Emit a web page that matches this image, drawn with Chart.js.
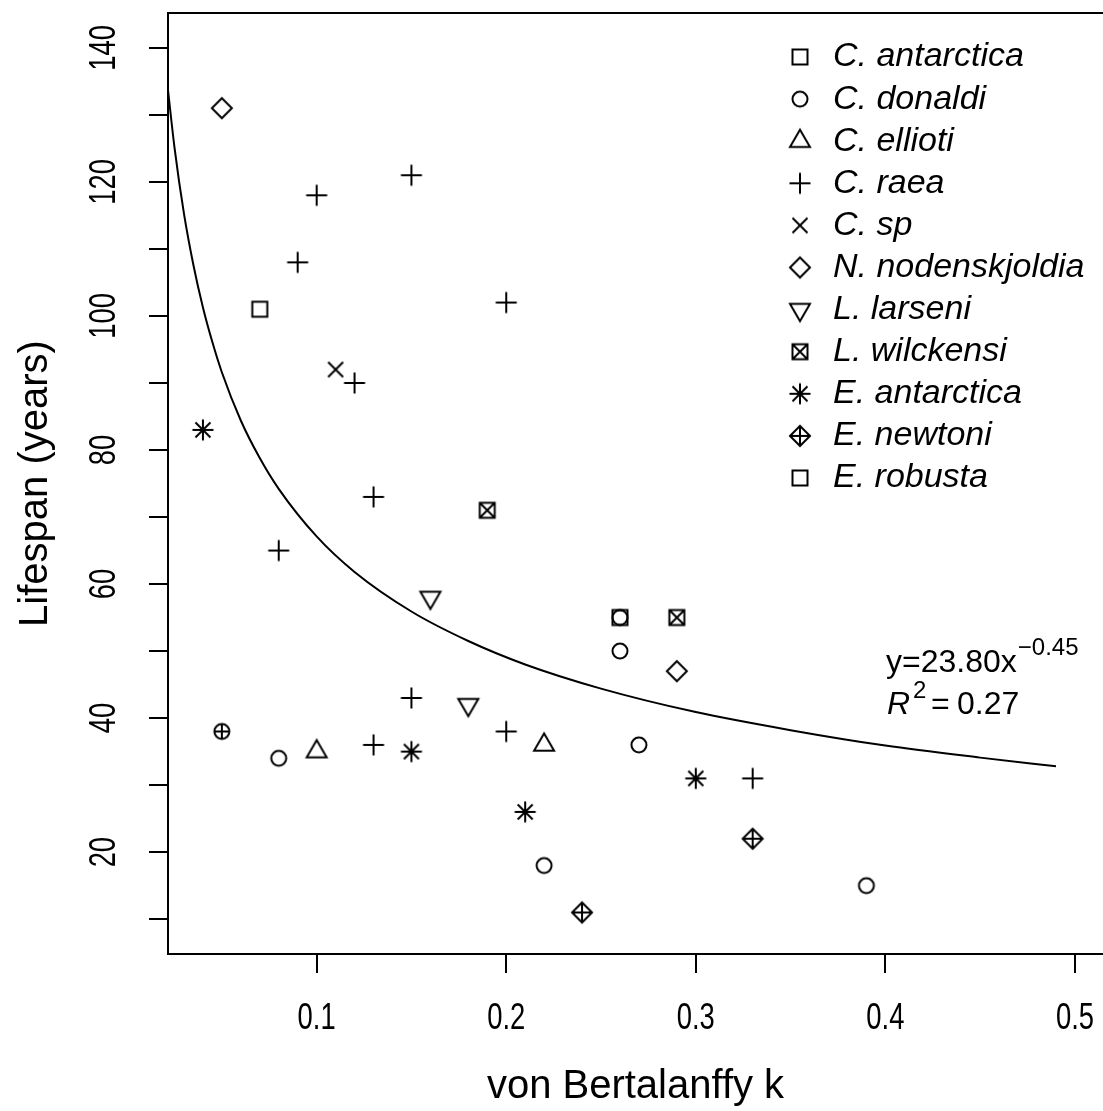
<!DOCTYPE html>
<html>
<head>
<meta charset="utf-8">
<script src="https://cdn.jsdelivr.net/npm/chart.js@4.4.0/dist/chart.umd.min.js"></script>
<style>
  html, body { margin: 0; padding: 0; background: #fff; overflow: hidden; }
  #wrap { width: 1103px; height: 1111px; }
</style>
</head>
<body>
<div id="wrap"><canvas id="chart" width="1103" height="1111"></canvas></div>
<script>
// values: von Bertalanffy k vs lifespan (years)
const species = ['C. antarctica', 'C. donaldi', 'C. ellioti', 'C. raea', 'C. sp',
  'N. nodenskjoldia', 'L. larseni', 'L. wilckensi', 'E. antarctica', 'E. newtoni', 'E. robusta'];

const cAntarcticaK = [0.07, 0.26];
const cAntarcticaLife = [101, 55];
const cDonaldiK = [0.26, 0.26, 0.08, 0.27, 0.22, 0.39];
const cDonaldiLife = [55, 50, 34, 36, 18, 15];
const cElliotiK = [0.10, 0.22];
const cElliotiLife = [35, 36];
const cRaeaK = [0.10, 0.15, 0.09, 0.20, 0.12, 0.13, 0.08, 0.15, 0.13, 0.20, 0.33];
const cRaeaLife = [118, 121, 108, 102, 90, 73, 65, 43, 36, 38, 31];
const cSpK = [0.11];
const cSpLife = [92];
const nNodenskjoldiaK = [0.05, 0.29];
const nNodenskjoldiaLife = [131, 47];
const lLarseniK = [0.16, 0.18];
const lLarseniLife = [58, 42];
const lWilckensiK = [0.19, 0.29];
const lWilckensiLife = [71, 55];
const eAntarcticaK = [0.04, 0.15, 0.30, 0.21];
const eAntarcticaLife = [83, 35, 31, 26];
const eNewtoniK = [0.33, 0.24];
const eNewtoniLife = [22, 11];
const eRobustaK = [0.05];
const eRobustaLife = [38];

// fitted curve y = 23.80 x^-0.45, as traced on the figure
const fitK = [0.0216, 0.025, 0.03, 0.035, 0.04, 0.045, 0.05, 0.06, 0.07, 0.08, 0.10, 0.12, 0.15, 0.18, 0.21, 0.25, 0.30, 0.35, 0.40, 0.45, 0.49];
const fitLife = [133.7, 125.2, 115.3, 107.6, 101.3, 96.1, 91.6, 84.4, 78.8, 74.2, 67.1, 61.8, 55.9, 51.5, 48.0, 44.4, 40.9, 38.2, 35.9, 34.1, 32.8];

const xTicks = [0.1, 0.2, 0.3, 0.4, 0.5];
const xTickLabels = ['0.1', '0.2', '0.3', '0.4', '0.5'];
const yTicks = [10, 20, 30, 40, 50, 60, 70, 80, 90, 100, 110, 120, 130, 140];
const yTickLabels = ['', '20', '', '40', '', '60', '', '80', '', '100', '', '120', '', '140'];

const sans = "'Liberation Sans', Arial, sans-serif";
const ink = '#000';

// R style plotting symbols
function makeSymbol(kind) {
  const c = document.createElement('canvas');
  c.width = 30; c.height = 30;
  const g = c.getContext('2d');
  const m = 15;
  g.strokeStyle = ink;
  g.lineWidth = 2;
  g.beginPath();
  if (kind === 'square' || kind === 'squareX') {
    g.rect(m - 7.5, m - 7.5, 15, 15);
    if (kind === 'squareX') {
      g.moveTo(m - 7.5, m - 7.5); g.lineTo(m + 7.5, m + 7.5);
      g.moveTo(m + 7.5, m - 7.5); g.lineTo(m - 7.5, m + 7.5);
    }
  } else if (kind === 'circle' || kind === 'circlePlus') {
    g.arc(m, m, 7.5, 0, Math.PI * 2);
    if (kind === 'circlePlus') {
      g.moveTo(m - 7.5, m); g.lineTo(m + 7.5, m);
      g.moveTo(m, m - 7.5); g.lineTo(m, m + 7.5);
    }
  } else if (kind === 'triangle') {
    g.moveTo(m, m - 11.5); g.lineTo(m + 10, m + 5.8); g.lineTo(m - 10, m + 5.8); g.closePath();
  } else if (kind === 'triangleDown') {
    g.moveTo(m, m + 11.5); g.lineTo(m + 10, m - 5.8); g.lineTo(m - 10, m - 5.8); g.closePath();
  } else if (kind === 'plus') {
    g.moveTo(m - 10.5, m); g.lineTo(m + 10.5, m);
    g.moveTo(m, m - 10.5); g.lineTo(m, m + 10.5);
  } else if (kind === 'cross') {
    g.moveTo(m - 7.5, m - 7.5); g.lineTo(m + 7.5, m + 7.5);
    g.moveTo(m + 7.5, m - 7.5); g.lineTo(m - 7.5, m + 7.5);
  } else if (kind === 'diamond' || kind === 'diamondPlus') {
    g.moveTo(m, m - 10); g.lineTo(m + 10, m); g.lineTo(m, m + 10); g.lineTo(m - 10, m); g.closePath();
    if (kind === 'diamondPlus') {
      g.moveTo(m - 10, m); g.lineTo(m + 10, m);
      g.moveTo(m, m - 10); g.lineTo(m, m + 10);
    }
  } else if (kind === 'asterisk') {
    g.moveTo(m - 10.5, m); g.lineTo(m + 10.5, m);
    g.moveTo(m, m - 10.5); g.lineTo(m, m + 10.5);
    g.moveTo(m - 7.5, m - 7.5); g.lineTo(m + 7.5, m + 7.5);
    g.moveTo(m + 7.5, m - 7.5); g.lineTo(m - 7.5, m + 7.5);
  }
  g.stroke();
  return c;
}

const plotSymbols = ['square', 'circle', 'triangle', 'plus', 'cross', 'diamond',
  'triangleDown', 'squareX', 'asterisk', 'diamondPlus', 'circlePlus'];
const legendSymbols = ['square', 'circle', 'triangle', 'plus', 'cross', 'diamond',
  'triangleDown', 'squareX', 'asterisk', 'diamondPlus', 'square'];

const kLists = [cAntarcticaK, cDonaldiK, cElliotiK, cRaeaK, cSpK, nNodenskjoldiaK,
  lLarseniK, lWilckensiK, eAntarcticaK, eNewtoniK, eRobustaK];
const lifeLists = [cAntarcticaLife, cDonaldiLife, cElliotiLife, cRaeaLife, cSpLife, nNodenskjoldiaLife,
  lLarseniLife, lWilckensiLife, eAntarcticaLife, eNewtoniLife, eRobustaLife];

const pointSets = species.map((name, i) => ({
  type: 'scatter',
  label: name,
  data: kLists[i].map((k, j) => ({ x: k, y: lifeLists[i][j] })),
  pointStyle: makeSymbol(plotSymbols[i]),
  pointRadius: 10,
  order: 1
}));

const fitSet = {
  type: 'line',
  label: 'fit',
  data: fitK.map((k, i) => ({ x: k, y: fitLife[i] })),
  borderColor: ink,
  borderWidth: 2,
  pointRadius: 0,
  fill: false,
  cubicInterpolationMode: 'monotone',
  order: 2
};

// narrow tick label text, like the condensed axis font of the original
function narrowText(ctx, text, x, y, rot) {
  ctx.save();
  ctx.translate(x, y);
  if (rot) ctx.rotate(rot);
  ctx.scale(0.74, 1);
  ctx.fillText(text, 0, 0);
  ctx.restore();
}

const rDecor = {
  id: 'rDecor',
  afterDraw(chart) {
    const ctx = chart.ctx;
    const a = chart.chartArea;
    const xs = chart.scales.x;
    const ys = chart.scales.y;
    ctx.save();
    // top edge of the box (right edge lies outside the picture)
    ctx.strokeStyle = ink;
    ctx.lineWidth = 2;
    ctx.beginPath();
    ctx.moveTo(a.left - 1, a.top);
    ctx.lineTo(chart.width, a.top);
    ctx.stroke();

    ctx.fillStyle = ink;
    ctx.font = '37px ' + sans;
    ctx.textAlign = 'center';
    ctx.textBaseline = 'middle';
    // x tick labels
    xTicks.forEach((v, i) => narrowText(ctx, xTickLabels[i], xs.getPixelForValue(v), 1019, 0));
    // y tick labels, parallel to the axis
    yTicks.forEach((v, i) => {
      if (yTickLabels[i]) narrowText(ctx, yTickLabels[i], 105, ys.getPixelForValue(v), -Math.PI / 2);
    });

    // legend
    ctx.textAlign = 'left';
    ctx.font = 'italic 34px ' + sans;
    species.forEach((name, i) => {
      const yy = 57 + i * 42.1;
      ctx.drawImage(makeSymbol(legendSymbols[i]), 800 - 15, yy - 15);
      ctx.fillText(name, 833, yy);
    });

    // fit annotation
    ctx.textBaseline = 'alphabetic';
    ctx.font = '32px ' + sans;
    ctx.fillText('y=23.80x', 886, 672);
    const w = ctx.measureText('y=23.80x').width;
    ctx.font = '24px ' + sans;
    ctx.fillText('\u22120.45', 886 + w + 1, 655);
    ctx.font = 'italic 32px ' + sans;
    ctx.fillText('R', 887, 714);
    const wr = ctx.measureText('R').width;
    ctx.font = '24px ' + sans;
    ctx.fillText('2', 887 + wr + 3, 698);
    ctx.font = '32px ' + sans;
    ctx.fillText('=', 931, 714);
    ctx.fillText('0.27', 957, 714);
    ctx.restore();
  }
};

new Chart(document.getElementById('chart'), {
  data: { datasets: [fitSet, ...pointSets] },
  options: {
    responsive: false,
    animation: false,
    events: [],
    layout: { autoPadding: false, padding: { left: 0, top: 13, right: 0, bottom: 0 } },
    plugins: { legend: { display: false }, tooltip: { enabled: false } },
    scales: {
      x: {
        type: 'linear',
        min: 0.0216,
        max: 0.5148,
        afterFit: s => { s.height = 157; s.paddingLeft = 0; s.paddingRight = 0; },
        afterBuildTicks: s => { s.ticks = xTicks.map(v => ({ value: v })); },
        grid: { drawOnChartArea: false, drawTicks: true, tickLength: 19, tickColor: ink, tickWidth: 2, lineWidth: 2, color: ink },
        border: { display: true, color: ink, width: 2 },
        ticks: { display: false },
        title: { display: true, text: 'von Bertalanffy k', color: ink, font: { family: sans, size: 40 }, padding: { top: 0, bottom: 0 } }
      },
      y: {
        type: 'linear',
        min: 4.8,
        max: 145.2,
        afterFit: s => { s.width = 168; s.paddingTop = 0; s.paddingBottom = 0; },
        afterBuildTicks: s => { s.ticks = yTicks.map(v => ({ value: v })); },
        grid: { drawOnChartArea: false, drawTicks: true, tickLength: 19, tickColor: ink, tickWidth: 2, lineWidth: 2, color: ink },
        border: { display: true, color: ink, width: 2 },
        ticks: { display: false },
        title: { display: true, text: 'Lifespan (years)', color: ink, font: { family: sans, size: 40 }, padding: { top: 12, bottom: 0 } }
      }
    }
  },
  plugins: [rDecor]
});
</script>
</body>
</html>
